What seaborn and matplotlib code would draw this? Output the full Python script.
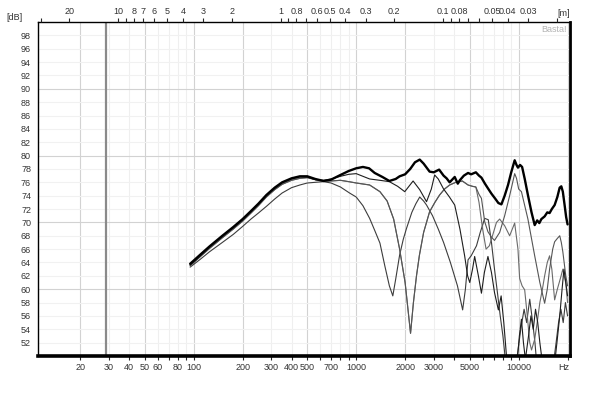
import matplotlib
matplotlib.use('Agg')
import matplotlib.pyplot as plt
from matplotlib.ticker import FixedLocator, NullLocator
import seaborn as sns

# 频率响应曲线 (Hz, dB)
f0 = [95, 110, 125, 150, 175, 200, 225, 250, 280, 315, 350, 400, 450, 500, 560, 630, 700, 800, 900, 1000,
      1100, 1200, 1300, 1450, 1600, 1750, 1850, 2000, 2150, 2300, 2460, 2600, 2830, 3000, 3240, 3450, 3600,
      3760, 4040, 4220, 4340, 4600, 4880, 5100, 5450, 5700, 5900, 6200, 6470, 6800, 7200, 7500, 7830, 8200,
      8600, 9000, 9450, 9700, 9900, 10200, 10500, 10900, 11400, 12000, 12550, 13000, 13400, 13800, 14450,
      15000, 15500, 16000, 16650, 17300, 17880, 18300, 18700, 19200, 19600, 20000]
l0 = [63.8, 65.2, 66.4, 68.0, 69.3, 70.5, 71.7, 72.8, 74.1, 75.2, 76.0, 76.6, 76.9, 76.9, 76.5, 76.2, 76.4,
      77.1, 77.7, 78.1, 78.3, 78.1, 77.4, 76.8, 76.2, 76.5, 76.9, 77.2, 78.0, 79.0, 79.4, 78.8, 77.6, 77.5,
      77.9, 77.0, 76.6, 76.0, 76.8, 75.8, 76.3, 77.0, 77.4, 77.2, 77.5, 77.0, 76.7, 75.8, 75.1, 74.3, 73.5,
      72.9, 72.7, 74.0, 75.6, 77.5, 79.3, 78.6, 78.2, 78.6, 78.3, 76.5, 74.1, 71.5, 69.6, 70.3, 69.9, 70.5,
      70.9, 71.5, 71.4, 72.0, 72.6, 73.8, 75.2, 75.4, 74.6, 72.5, 70.8, 69.7]

f1 = [95, 110, 125, 150, 175, 200, 225, 250, 280, 315, 350, 400, 450, 500, 560, 630, 700, 800, 900, 1000,
      1210, 1400, 1600, 1800, 1990, 2240, 2460, 2710, 2900, 3040, 3200, 3450, 3750, 4040, 4350, 4650, 4850,
      5000, 5200, 5360, 5650, 5900, 6150, 6470, 6800, 7100, 7500, 7800, 8100, 8350, 8600, 9000, 9700, 10100,
      10400, 10700, 11000, 11500, 11900, 12300, 12700, 13100, 13500, 14000, 14500, 15500, 16500, 17200,
      17900, 18500, 19000, 19500, 20000]
l1 = [63.6, 65.0, 66.3, 67.9, 69.2, 70.4, 71.6, 72.7, 74.0, 75.1, 75.9, 76.5, 76.8, 76.8, 76.4, 76.3, 76.5,
      76.9, 77.2, 77.3, 76.5, 76.3, 76.1, 75.4, 74.6, 76.2, 74.9, 73.1, 75.0, 77.1, 76.5, 75.0, 73.8, 72.6,
      69.0, 65.0, 62.0, 61.0, 63.0, 64.9, 62.0, 59.4, 62.5, 64.9, 62.5, 59.5, 56.9, 59.0, 55.0, 51.0, 47.0,
      45.0, 48.0, 53.0, 55.5, 52.0, 49.5, 53.0, 56.0, 54.0, 57.0, 55.0, 52.0, 49.0, 47.0, 46.0, 48.0, 52.0,
      56.0, 60.0, 63.0, 61.0, 59.0]

f2 = [95, 110, 125, 150, 175, 200, 225, 250, 280, 315, 350, 400, 450, 500, 560, 630, 700, 800, 900, 1000,
      1210, 1400, 1550, 1700, 1850, 2000, 2160, 2250, 2350, 2450, 2600, 2830, 3050, 3260, 3500, 3760, 4100,
      4500, 4880, 5200, 5450, 5700, 5900, 6180, 6470, 6800, 7100, 7640, 8200, 8800, 9450, 9700, 10000, 10400,
      11400, 12550, 13500, 14450, 15000, 15500, 16200, 16650, 17300, 17900, 18300, 18700, 19500, 20000]
l2 = [63.5, 64.9, 66.1, 67.7, 69.0, 70.2, 71.4, 72.5, 73.8, 74.9, 75.7, 76.3, 76.6, 76.7, 76.4, 76.2, 76.2,
      76.3, 76.1, 75.9, 75.6, 74.6, 73.2, 70.5, 66.0, 61.0, 53.4, 58.0, 62.0, 65.1, 68.5, 71.6, 73.0, 74.1,
      75.0, 75.6, 76.0, 76.2, 75.6, 75.4, 75.3, 74.2, 73.6, 70.1, 68.6, 67.8, 67.3, 68.5, 71.0, 74.0, 77.3,
      76.6, 75.0, 74.6, 70.5, 65.0, 61.0, 57.9, 60.0, 63.0, 66.0, 67.1, 67.6, 68.0, 67.0, 65.6, 62.0, 60.5]

f3 = [95, 110, 125, 150, 175, 200, 225, 250, 280, 315, 350, 400, 450, 500, 560, 630, 700, 800, 910, 1000,
      1100, 1210, 1300, 1400, 1500, 1600, 1680, 1750, 1850, 1950, 2040, 2200, 2330, 2460, 2600, 2710, 2950,
      3200, 3450, 3800, 4200, 4520, 4700, 4880, 5100, 5500, 5800, 6180, 6500, 6800, 7100, 7400, 7700, 8000,
      8200, 8400, 9000, 9800, 10300, 10800, 11200, 11700, 12200, 12600, 13000, 16000, 17000, 17600, 18200,
      18800, 19400, 20000]
l3 = [63.3, 64.5, 65.6, 67.0, 68.2, 69.4, 70.5, 71.4, 72.4, 73.5, 74.4, 75.2, 75.6, 75.9, 76.0, 76.1, 75.9,
      75.3, 74.4, 73.8, 72.5, 70.6, 68.8, 66.9, 63.5, 60.5, 59.0, 61.5, 65.1, 67.5, 69.1, 71.5, 72.8, 73.8,
      73.2, 72.6, 71.0, 69.0, 67.0, 64.0, 60.5, 56.9, 60.0, 64.4, 65.0, 66.5, 68.5, 70.6, 70.4, 67.0, 63.0,
      59.5, 56.0, 53.0, 50.5, 47.0, 46.0, 50.0, 54.0, 57.0, 55.0, 58.5, 55.0, 52.0, 48.0, 47.0, 52.0, 55.0,
      57.0, 55.0, 58.0, 56.0]

# 第五条曲线在 5.45 kHz 以下与第三条重合
f4_hi = [5700, 6000, 6300, 6600, 6900, 7300, 7640, 8200, 8800, 9450, 9900, 10140, 10500, 10890, 11300,
         11700, 12000, 12550, 13000, 13500, 14000, 14450, 15000, 15500, 16000, 16650, 17300, 18200, 18700,
         19500, 20000]
l4_hi = [73.0, 69.0, 66.0, 66.5, 68.0, 70.0, 70.5, 69.5, 68.0, 69.9, 66.0, 61.6, 60.5, 59.9, 56.0, 52.0,
         50.9, 52.5, 55.0, 58.0, 60.0, 62.0, 64.0, 65.0, 63.0, 58.4, 60.0, 61.9, 63.0, 60.9, 58.0]
n4 = f2.index(5450) + 1
f4 = f2[:n4] + f4_hi
l4 = l2[:n4] + l4_hi

# 刻度
hz_labels = {20: '20', 30: '30', 40: '40', 50: '50', 60: '60', 80: '80', 100: '100', 200: '200',
             300: '300', 400: '400', 500: '500', 700: '700', 1000: '1000', 2000: '2000', 3000: '3000',
             5000: '5000', 10000: '10000'}
wavelengths = [30, 20, 10, 9, 8, 7, 6, 5, 4, 3, 2, 1, 0.9, 0.8, 0.7, 0.6, 0.5, 0.4, 0.3, 0.2, 0.1,
               0.09, 0.08, 0.07, 0.06, 0.05, 0.04, 0.03, 0.02]
wl_labels = ['', '20', '10', '', '8', '7', '6', '5', '4', '3', '2', '1', '', '0.8', '', '0.6', '0.5',
             '0.4', '0.3', '0.2', '0.1', '', '0.08', '', '', '0.05', '0.04', '0.03', '']
SPEED = 343.0

sns.set_style('white')
plt.rcParams['font.family'] = ['Liberation Sans', 'DejaVu Sans']

W, H = 595, 394
fig = plt.figure(figsize=(W / 100, H / 100), dpi=100)
ax = fig.add_axes([38 / W, 1 - 356 / H, 532 / W, 334 / H])
ax.set_xscale('log')
XMIN, XMAX = 11, 20700
ax.set_xlim(XMIN, XMAX)
ax.set_ylim(50, 100)

# 网格线
grid_f = [d * m for d in (10, 100, 1000, 10000) for m in range(1, 10) if XMIN < d * m < XMAX]
for f in grid_f:
    m = round(f / 10 ** (len(str(int(f))) - 1))
    ax.axvline(f, color='#d2d2d2' if m in (1, 2, 5) else '#efefef', lw=0.8, zorder=0)
for v in range(52, 100, 2):
    ax.axhline(v, color='#d2d2d2' if v % 10 == 0 else '#f1f1f1', lw=0.8, zorder=0)
ax.axvline(29, color='#8a8a8a', lw=1.6, zorder=1)

curves = [
    (f3, l3, '#3c3c3c', 0.8),
    (f4, l4, '#6a6a6a', 0.8),
    (f2, l2, '#555555', 0.8),
    (f1, l1, '#1e1e1e', 0.8),
    (f0, l0, '#000000', 1.7),
]
for fx, ly, col, lw in curves:
    sns.lineplot(x=fx, y=ly, ax=ax, color=col, linewidth=lw, estimator=None, sort=False, legend=False)

ax.set_xlabel('')
ax.set_ylabel('')

# 底部频率轴
ax.xaxis.set_major_locator(FixedLocator(grid_f))
ax.xaxis.set_minor_locator(NullLocator())
ax.set_xticklabels([hz_labels.get(int(f), '') for f in grid_f])
ax.tick_params(axis='x', direction='out', length=3, width=0.8, pad=2, labelsize=6.5, labelcolor='#333333')
ax.set_yticks(list(range(52, 100, 2)))
ax.set_yticklabels([str(v) for v in range(52, 100, 2)])
ax.tick_params(axis='y', direction='out', length=3, width=0.8, pad=2, labelsize=6.5, labelcolor='#333333')

for side, lw in [('left', 1.0), ('top', 1.0), ('bottom', 2.6), ('right', 2.0)]:
    ax.spines[side].set_visible(True)
    ax.spines[side].set_color('black')
    ax.spines[side].set_linewidth(lw)

# 顶部波长轴
ax2 = ax.twiny()
ax2.set_xscale('log')
ax2.set_xlim(XMIN, XMAX)
ax2.xaxis.set_major_locator(FixedLocator([SPEED / w for w in wavelengths]))
ax2.xaxis.set_minor_locator(NullLocator())
ax2.set_xticklabels(wl_labels)
ax2.tick_params(axis='x', direction='out', length=3, width=0.8, pad=1, labelsize=6.5, labelcolor='#333333')
for side in ['left', 'right', 'bottom', 'top']:
    ax2.spines[side].set_visible(False)

fig.text(6 / W, 1 - 17 / H, '[dB]', fontsize=6.5, color='#333333', va='center')
fig.text(564 / W, 1 - 14 / H, '[m]', fontsize=6.5, color='#333333', va='center', ha='center')
fig.text(564 / W, 1 - 367 / H, 'Hz', fontsize=6.5, color='#333333', va='center', ha='center')
ax.text(0.995, 0.99, 'Basta!', transform=ax.transAxes, ha='right', va='top', fontsize=6.5, color='#b4b4b4')

fig.savefig('out.png', dpi=100)
